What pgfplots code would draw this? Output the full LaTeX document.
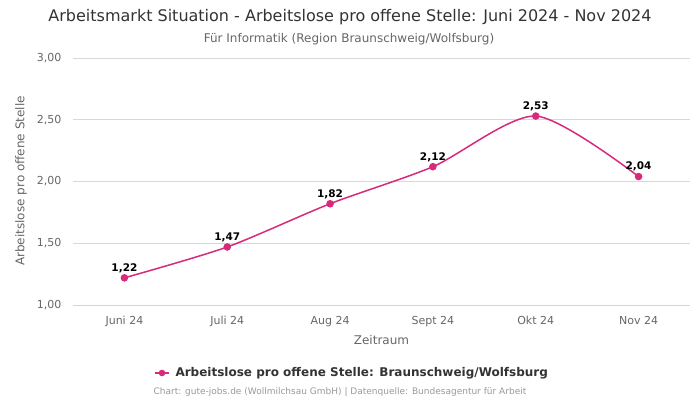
\documentclass[border=0pt]{standalone}
\usepackage{pgfplots}
\pgfplotsset{compat=1.18}
\usepackage{fontspec}
\setmainfont{DejaVu Sans}
\definecolor{linec}{HTML}{D62A7A}
\definecolor{gridc}{HTML}{D8D8D8}
\definecolor{axc}{HTML}{CCD6EB}
\definecolor{tickc}{HTML}{666666}
\definecolor{titc}{HTML}{333333}
\definecolor{credc}{HTML}{999999}
\begin{document}
\begin{tikzpicture}[x=1pt,y=1pt]
\path (0,0) rectangle (700,-400);
\node[font=\fontsize{16}{19}\selectfont, text=titc] at (350,-17) {Arbeitsmarkt Situation - Arbeitslose pro offene Stelle: Juni 2024 - Nov 2024};
\node[font=\fontsize{12}{14}\selectfont, text=tickc] at (349,-39) {Für Informatik (Region Braunschweig/Wolfsburg)};
\begin{axis}[
  at={(73pt,-305pt)}, anchor=south west,
  scale only axis, width=617pt, height=247pt,
  xmin=-0.5, xmax=5.5, ymin=1, ymax=3,
  axis line style={draw=none},
  ytick={1,1.5,2,2.5,3},
  xtick={0,1,2,3,4,5},
  xticklabels={Juni 24,Juli 24,Aug 24,Sept 24,Okt 24,Nov 24},
  yticklabel style={/pgf/number format/fixed,/pgf/number format/fixed zerofill,/pgf/number format/precision=2,/pgf/number format/use comma},
  /pgf/number format/assume math mode=true,
  ticklabel style={font=\fontsize{11}{13}\selectfont, text=tickc},
  xticklabel style={yshift=-8pt},
  yticklabel style={xshift=-8pt},
  major tick length=0pt,
  clip=false,
]
\foreach \v in {1.5,2,2.5,3} {
  \edef\tmp{\noexpand\draw[gridc, line width=0.8pt] (axis cs:-0.5,\v) -- (axis cs:5.5,\v);}\tmp
}
\draw[axc, line width=0.8pt] (axis cs:-0.5,1) -- (axis cs:5.5,1);
\addplot[linec, line width=1.5pt, smooth, tension=0.45, mark=*, mark size=3pt,
  mark options={fill=linec, draw=linec},
  nodes near coords, point meta=explicit symbolic,
  every node near coord/.append style={font=\bfseries\fontsize{10.5}{12}\selectfont, text=black, yshift=1pt}]
  table[meta=lab] {
x y lab
0 1.22 {1,22}
1 1.47 {1,47}
2 1.82 {1,82}
3 2.12 {2,12}
4 2.53 {2,53}
5 2.04 {2,04}
};
\end{axis}
\node[font=\fontsize{12}{14}\selectfont, text=tickc] at (381.5,-340) {Zeitraum};
\node[font=\fontsize{12}{14}\selectfont, text=tickc, rotate=90] at (21,-181) {Arbeitslose pro offene Stelle};
\draw[linec, line width=1.5pt] (155,-373) -- (169,-373);
\fill[linec] (162,-373) circle (3.3pt);
\node[anchor=west, font=\bfseries\fontsize{12}{14}\selectfont, text=titc] at (172,-373) {Arbeitslose pro offene Stelle: Braunschweig/Wolfsburg};
\node[font=\fontsize{9}{11}\selectfont, text=credc] at (340,-392) {Chart: gute-jobs.de (Wollmilchsau GmbH) | Datenquelle: Bundesagentur für Arbeit};
\end{tikzpicture}
\end{document}
